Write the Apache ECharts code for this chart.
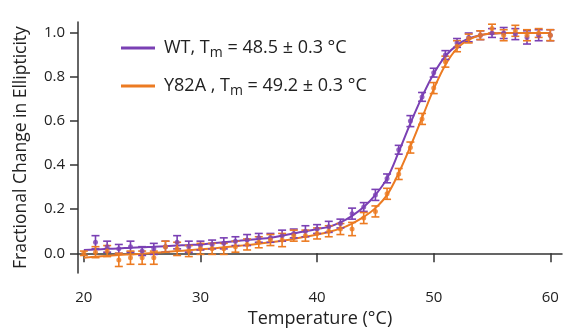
<!DOCTYPE html>
<html><head><meta charset="utf-8">
<script src="https://cdn.jsdelivr.net/npm/echarts@6/dist/echarts.min.js"></script>
<style>html,body{margin:0;padding:0;background:#fff}#c{width:568px;height:333px}</style>
</head><body><div id="c"></div>
<script>
const temps = [20,21,22,23,24,25,26,27,28,29,30,31,32,33,34,35,36,37,38,39,40,41,42,43,44,45,46,47,48,49,50,51,52,53,54,55,56,57,58,59,60];
const wtValues = [null,0.05,0.03,0.02,0.03,0.01,0.02,0.03,0.05,0.03,0.035,0.04,0.045,0.055,0.06,0.07,0.07,0.08,0.09,0.10,0.11,0.12,0.135,0.18,0.21,0.265,0.34,0.47,0.60,0.71,0.82,0.90,0.955,0.98,0.99,1.0,1.0,0.995,0.98,0.99,0.99];
const wtErr = [null,0.03,0.025,0.02,0.025,0.02,0.025,0.025,0.03,0.025,0.02,0.02,0.025,0.02,0.025,0.02,0.02,0.025,0.02,0.025,0.02,0.025,0.02,0.025,0.02,0.025,0.02,0.02,0.025,0.02,0.02,0.02,0.02,0.02,0.02,0.02,0.025,0.025,0.03,0.025,0.025];
const y82Values = [0.0,0.005,0.01,-0.03,-0.02,-0.02,-0.02,0.03,0.02,0.01,0.02,0.02,0.02,0.03,0.04,0.05,0.06,0.06,0.08,0.08,0.09,0.10,0.11,0.11,0.16,0.19,0.27,0.36,0.48,0.61,0.75,0.87,0.94,0.975,0.99,1.02,0.99,1.01,0.99,1.0,0.99];
const y82Err = [0.01,0.025,0.025,0.03,0.03,0.03,0.03,0.025,0.03,0.025,0.025,0.025,0.025,0.025,0.025,0.025,0.025,0.03,0.025,0.025,0.025,0.025,0.025,0.03,0.025,0.025,0.025,0.025,0.025,0.025,0.025,0.025,0.025,0.02,0.02,0.02,0.025,0.025,0.025,0.02,0.025];
const wtFit = [0.015,0.017,0.02,0.022,0.025,0.027,0.03,0.032,0.035,0.038,0.04,0.045,0.05,0.055,0.06,0.065,0.07,0.08,0.09,0.10,0.11,0.12,0.14,0.17,0.21,0.265,0.34,0.46,0.59,0.71,0.815,0.895,0.945,0.975,0.99,0.997,1.0,1.0,1.0,1.0,1.0];
const y82Fit = [-0.02,-0.016,-0.012,-0.008,-0.005,-0.002,0.002,0.006,0.01,0.014,0.018,0.022,0.027,0.032,0.037,0.043,0.05,0.057,0.065,0.075,0.085,0.097,0.112,0.135,0.165,0.205,0.265,0.365,0.485,0.615,0.745,0.855,0.93,0.97,0.99,0.998,1.0,1.0,1.0,1.0,1.0];
const xTicks = [20,30,40,50,60];
const yTicks = [0,0.2,0.4,0.6,0.8,1.0];

const PURPLE = '#7a40b4', ORANGE = '#ec7b22';
const FONT = 'Open Sans';

function pts(vals){ return temps.map((t,i)=>vals[i]==null?null:[t,vals[i]]).filter(p=>p); }
function errs(vals, e){ return temps.map((t,i)=>vals[i]==null?null:[t,vals[i]-e[i],vals[i]+e[i]]).filter(p=>p); }
function errRender(color){
  return function(params, api){
    const x = api.value(0);
    const a = api.coord([x, api.value(1)]), b = api.coord([x, api.value(2)]);
    const w = 4;
    const st = {stroke: color, lineWidth: 1.6};
    return {type:'group', children:[
      {type:'line', shape:{x1:a[0],y1:a[1],x2:b[0],y2:b[1]}, style:st},
      {type:'line', shape:{x1:a[0]-w,y1:a[1],x2:a[0]+w,y2:a[1]}, style:st},
      {type:'line', shape:{x1:b[0]-w,y1:b[1],x2:b[0]+w,y2:b[1]}, style:st}
    ]};
  };
}

const chart = echarts.init(document.getElementById('c'), null, {renderer:'canvas'});
const rich = {
  a: {fontFamily: FONT, fontSize: 18, color:'#222', lineHeight: 24},
  s: {fontFamily: FONT, fontSize: 14, color:'#222', lineHeight: 24, padding:[10,0,0,0]}
};
chart.setOption({
  animation: false,
  grid: {left: 78, right: 6, top: 22, bottom: 57},
  legend: {
    orient: 'vertical', left: 116, top: 31, itemGap: 14,
    itemWidth: 34, itemHeight: 3, icon: 'rect',
    data: [{name:'WT', itemStyle:{color:PURPLE}}, {name:'Y82A', itemStyle:{color:ORANGE}}],
    formatter: function(n){
      return n === 'WT' ? '{a|WT, T}{s|m}{a| = 48.5 ± 0.3 °C}' : '{a|Y82A , T}{s|m}{a| = 49.2 ± 0.3 °C}';
    },
    textStyle: {rich: rich, padding:[0,0,0,4]}
  },
  xAxis: {
    type: 'value', min: 19.5, max: 61,
    name: 'Temperature (°C)', nameLocation: 'middle', nameGap: 36,
    nameTextStyle: {fontFamily: FONT, fontSize: 18, color:'#222'},
    axisLine: {lineStyle: {color:'#333', width: 1.5}},
    axisTick: {customValues: xTicks, length: 9, lineStyle:{color:'#333', width:1.5}},
    axisLabel: {customValues: xTicks, fontFamily: FONT, fontSize: 15, color:'#222', margin: 17},
    splitLine: {show: false}
  },
  yAxis: {
    type: 'value', min: -0.09, max: 1.05,
    name: 'Fractional Change in Ellipticity', nameLocation: 'middle', nameGap: 48,
    nameTextStyle: {fontFamily: FONT, fontSize: 17.5, color:'#222'},
    axisLine: {show: true, lineStyle: {color:'#333', width: 1.5}},
    axisTick: {show: true, customValues: yTicks, length: 8, lineStyle:{color:'#333', width:1.5}},
    axisLabel: {customValues: yTicks, fontFamily: FONT, fontSize: 15, color:'#222', margin: 13,
      formatter: v => v.toFixed(1)},
    splitLine: {show: false}
  },
  series: [
    {name:'WT', type:'line', data: temps.map((t,i)=>[t, wtFit[i]]), smooth: 0.4, showSymbol:false,
      lineStyle:{color:PURPLE, width:2}, itemStyle:{color:PURPLE}, z: 3},
    {name:'Y82A', type:'line', data: temps.map((t,i)=>[t, y82Fit[i]]), smooth: 0.4, showSymbol:false,
      lineStyle:{color:ORANGE, width:2}, itemStyle:{color:ORANGE}, z: 3},
    {name:'WT err', type:'custom', data: errs(wtValues, wtErr), renderItem: errRender(PURPLE), z: 4},
    {name:'WT pts', type:'scatter', data: pts(wtValues), symbol:'circle', symbolSize: 5, itemStyle:{color:PURPLE}, z: 5},
    {name:'Y82A err', type:'custom', data: errs(y82Values, y82Err), renderItem: errRender(ORANGE), z: 4},
    {name:'Y82A pts', type:'scatter', data: pts(y82Values), symbol:'circle', symbolSize: 5, itemStyle:{color:ORANGE}, z: 5}
  ]
});
</script></body></html>
